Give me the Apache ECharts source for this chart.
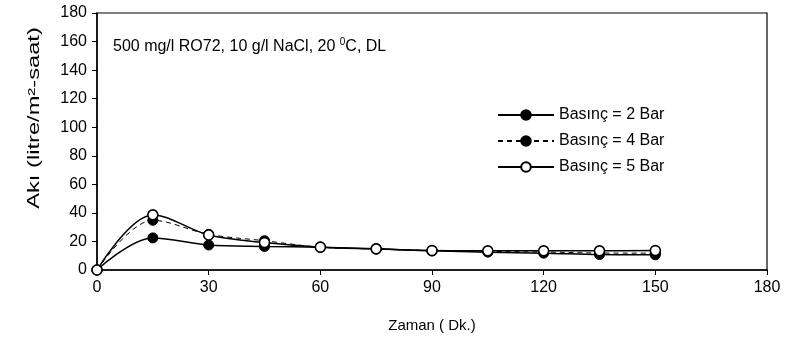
<!DOCTYPE html>
<html><head><meta charset="utf-8">
<script src="https://cdn.jsdelivr.net/npm/echarts@6/dist/echarts.min.js"></script>
<style>html,body{margin:0;padding:0;background:#fff}#c{width:788px;height:355px}</style>
</head><body><div id="c"></div>
<script>
var times = [0, 15, 30, 45, 60, 75, 90, 105, 120, 135, 150];
var bar2 = [0, 22.5, 17.5, 16.5, 16, 14.8, 13.4, 12.5, 11.8, 10.8, 10.6];
var bar4 = [0, 34.8, 25, 20.5, 16, 14.8, 13.6, 13, 12.6, 11.9, 11.8];
var bar5 = [0, 38.6, 24.5, 19.2, 16, 14.8, 13.6, 13.4, 13.4, 13.4, 13.6];
var seriesNames = ['Basınç = 2 Bar', 'Basınç = 4 Bar', 'Basınç = 5 Bar'];
var xTicks = [0, 30, 60, 90, 120, 150, 180];
var yTicks = [0, 20, 40, 60, 80, 100, 120, 140, 160, 180];
var xTitle = 'Zaman ( Dk.)';
var yTitle = 'Akı (litre/m²-saat)';

function pairs(v){ return times.map(function(t,i){ return [t, v[i]]; }); }
var font = 'Liberation Sans, Arial, sans-serif';
var chart = echarts.init(document.getElementById('c'));
chart.setOption({
  animation: false,
  backgroundColor: '#fff',
  textStyle: {fontFamily: font},
  grid: {left: 97, right: 21, top: 13, bottom: 85, show: true, borderColor: '#000', borderWidth: 1.2, backgroundColor: 'transparent'},
  xAxis: {
    type: 'value', min: xTicks[0], max: xTicks[xTicks.length-1], interval: 30,
    name: xTitle, nameLocation: 'middle', nameGap: 48,
    nameTextStyle: {color: '#000', fontSize: 15, fontFamily: font},
    axisLine: {lineStyle: {color: '#000', width: 1.5}},
    axisTick: {show: true, inside: false, length: 5, lineStyle: {color: '#000'}},
    axisLabel: {color: '#000', fontSize: 16, margin: 10, fontFamily: font},
    splitLine: {show: false}
  },
  yAxis: {
    type: 'value', min: yTicks[0], max: yTicks[yTicks.length-1], interval: 20,
    axisLine: {show: true, lineStyle: {color: '#000', width: 1.5}},
    axisTick: {show: true, inside: false, length: 5, lineStyle: {color: '#000'}},
    axisLabel: {color: '#000', fontSize: 16, margin: 10, fontFamily: font},
    splitLine: {show: false}
  },
  legend: {
    orient: 'vertical', left: 492, top: 102, itemWidth: 56, itemHeight: 12, itemGap: 10,
    textStyle: {color: '#000', fontSize: 16, fontFamily: font},
    data: seriesNames
  },
  graphic: [{
    type: 'text', left: 113, top: 37,
    style: {
      text: '{a|500 mg/l RO72, 10 g/l NaCl, 20 }{s|0}{a|C, DL}',
      rich: {
        a: {fontSize: 16, fontFamily: font, fill: '#000', lineHeight: 20},
        s: {fontSize: 10, fontFamily: font, fill: '#000', lineHeight: 20, verticalAlign: 'top'}
      }
    }
  }, {
    type: 'text', x: 35, y: 118, rotation: Math.PI / 2, scaleX: 1.48,
    style: {text: yTitle, fontSize: 16, fontFamily: font, fill: '#000', align: 'center', verticalAlign: 'middle'}
  }],
  series: [
    {name: seriesNames[0], type: 'line', data: pairs(bar2), smooth: 0.35,
     symbol: 'circle', symbolSize: 10, showAllSymbol: true,
     lineStyle: {color: '#000', width: 1.5, type: 'solid'},
     itemStyle: {color: '#000', borderColor: '#000', borderWidth: 1}, z: 3},
    {name: seriesNames[1], type: 'line', data: pairs(bar4), smooth: 0.35,
     symbol: 'circle', symbolSize: 10,
     lineStyle: {color: '#000', width: 1, type: [5, 4]},
     itemStyle: {color: '#000', borderColor: '#000', borderWidth: 1}, z: 4},
    {name: seriesNames[2], type: 'line', data: pairs(bar5), smooth: 0.35,
     symbol: 'circle', symbolSize: 10,
     lineStyle: {color: '#000', width: 1.5, type: 'solid'},
     itemStyle: {color: '#fff', borderColor: '#000', borderWidth: 1.6}, z: 5}
  ]
});
</script></body></html>
